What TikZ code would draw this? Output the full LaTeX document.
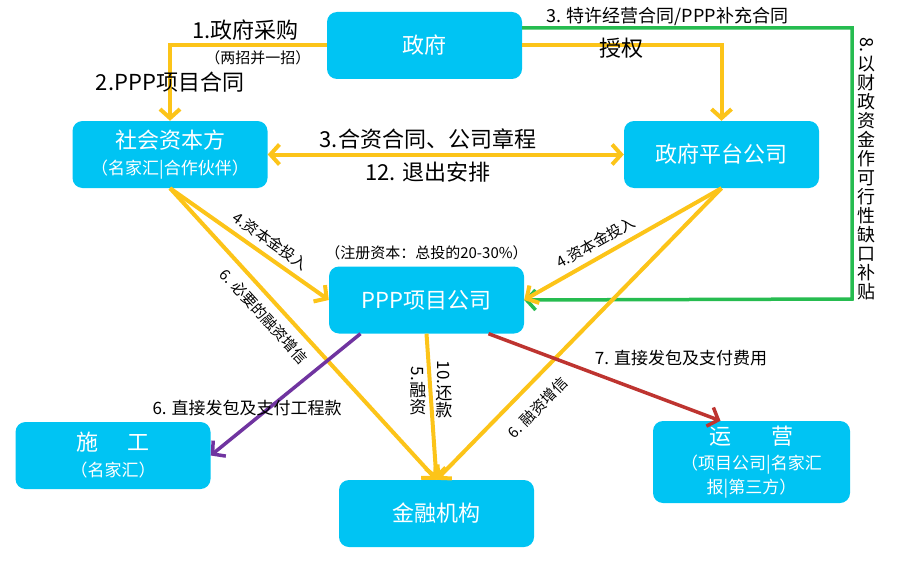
\documentclass[tikz,border=0pt]{standalone}
\usepackage{fontspec}
\setmainfont{Noto Sans CJK SC}
\usepackage{graphicx}
\usepackage{tikz}
\usetikzlibrary{arrows.meta,positioning,calc}
\definecolor{boxblue}{RGB}{0,196,243}
\definecolor{ayellow}{RGB}{252,196,25}
\definecolor{agreen}{RGB}{38,188,80}
\definecolor{apurple}{RGB}{112,52,160}
\definecolor{ared}{RGB}{190,52,48}
\newcommand{\fs}[1]{\fontsize{#1}{#1}\selectfont}

\begin{document}
\begin{tikzpicture}[x=1pt,y=-1pt,>={Straight Barb[length=9pt,width=20pt]},
  party/.style={fill=boxblue,rounded corners=10pt,text=white,minimum width=195pt,minimum height=67pt,align=center,font=\fs{22}},
  lab/.style={font=\fs{22},text=black,inner sep=2pt},
  mlab/.style={font=\fs{17},text=black,inner sep=2pt},
  slab/.style={font=\fs{15},text=black,inner sep=2pt},
  yline/.style={ayellow,line width=4pt},
  cline/.style={line width=3.5pt}]
\useasboundingbox (0,0) rectangle (901,567);
\node[party] (gov) at (424.5,45.5) {政府};
\node[party] (shehui) at (170,154.5) {社会资本方\\[4pt]{\fs{17}（名家汇|合作伙伴）}};
\node[party] (pingtai) at (721.5,154.5) {政府平台公司};
\node[party] (ppp) at (426.5,300) {PPP项目公司};
\node[party] (shigong) at (113,455.5) {施\hspace{1.3em}工\\[4pt]{\fs{17}（名家汇）}};
\node[party] (jinrong) at (436.5,513.5) {金融机构};
\node[party,minimum width=197pt,minimum height=82pt] (yunying) at (751.5,462) {运\hspace{1.8em}营\\[3pt]{\fs{17}（项目公司|名家汇}\\[2pt]{\fs{17}报|第三方）}};
\node[slab,above=4pt of ppp] (note) {（注册资本：总投的20-30\%）};
\coordinate (gr) at (852,299);
% government contracts
\draw[yline,->] (gov.west) -| node[lab,pos=.26,above=1pt]{1.政府采购} node[slab,pos=.22,below=1pt]{（两招并一招）}
  node[lab,pos=.74]{2.PPP项目合同} (shehui.north);
\draw[yline,->] (gov.east) -| node[lab,pos=.25,yshift=-3pt]{授权} (pingtai.north);
\draw[agreen,cline,->] ([yshift=17.5pt]gov.east) -| node[mlab,font=\fs{18},pos=.22,above=-1pt]{3. 特许经营合同/PPP补充合同}
  node[pos=.76,right=4pt,font=\fs{18},text=black,align=center,inner sep=0pt]{\rotatebox{-90}{8.}\\[3pt]以\\[1pt]财\\[1pt]政\\[1pt]资\\[1pt]金\\[1pt]作\\[1pt]可\\[1pt]行\\[1pt]性\\[1pt]缺\\[1pt]口\\[1pt]补\\[1pt]贴} (gr) -- (ppp.east);
\draw[yline,<->] (shehui.east) -- node[lab,pos=.45,above=1pt]{3.合资合同、公司章程} node[lab,pos=.45,below=3pt]{12. 退出安排} (pingtai.west);
% capital and financing
\draw[yline,->] (shehui.south) -- node[slab,sloped,pos=.58,above=4pt]{4.资本金投入} (ppp.west);
\draw[yline,->] (shehui.south) -- node[slab,sloped,pos=.4,below=6pt]{6. 必要的融资增信} (jinrong.north);
\draw[yline,->] (pingtai.south) -- node[slab,sloped,pos=.6,above=4pt]{4.资本金投入} (ppp.east);
\draw[yline,->] (pingtai.south) -- node[slab,sloped,pos=.7,below=11pt]{6. 融资增信} (jinrong.north);
\draw[yline,->] (ppp.south) -- node[mlab,pos=.39,left=2pt,align=center,inner sep=0pt]{\rotatebox{-90}{5.}\\融\\资}
  node[mlab,pos=.38,right=3pt,align=center,inner sep=0pt]{\rotatebox{-90}{10.}\\还\\款} (jinrong.north);
% contracting
\draw[apurple,cline,->] ([xshift=-66pt]ppp.south) -- node[mlab,pos=.61,xshift=-22pt]{6. 直接发包及支付工程款} (shigong.east);
\draw[ared,cline,->] ([xshift=62pt]ppp.south) -- node[mlab,pos=.83,yshift=48pt]{7. 直接发包及支付费用} ([xshift=-31pt]yunying.north);
\end{tikzpicture}
\end{document}
